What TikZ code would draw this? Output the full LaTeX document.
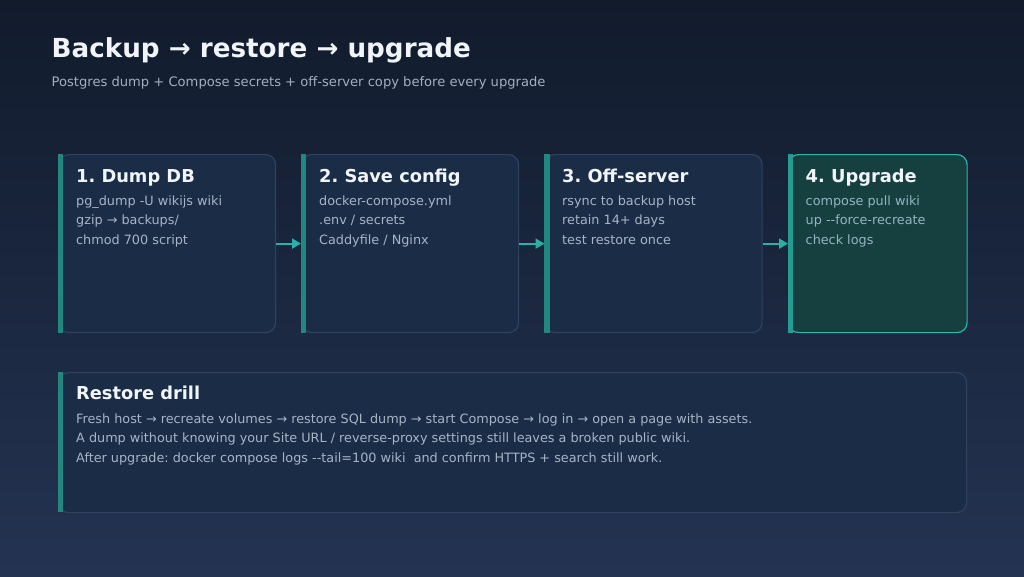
\documentclass[tikz,border=0pt]{standalone}
\usepackage{fontspec}
\setmainfont{DejaVu Sans}
\usetikzlibrary{arrows.meta}
\frenchspacing
\newcommand\dd{-\kern0pt-}
\definecolor{bgtop}{HTML}{111B2C}
\definecolor{bgbot}{HTML}{243352}
\definecolor{cardfill}{HTML}{1B2C47}
\definecolor{cardline}{HTML}{2E4262}
\definecolor{accent}{HTML}{22877F}
\definecolor{teal}{HTML}{2AB0A4}
\definecolor{upfill}{HTML}{15403F}
\definecolor{upline}{HTML}{2DB8AA}
\definecolor{titlecol}{HTML}{F1F5F9}
\definecolor{bodycol}{HTML}{A7B4C6}
\definecolor{subcol}{HTML}{A2AFC2}
\tikzset{
  card/.style={draw=cardline, line width=1.2pt, fill=cardfill, rounded corners=10pt, anchor=north west, inner sep=0pt},
  upcard/.style={card, draw=upline, fill=upfill},
  bar/.style={fill=accent, draw=none},
  cardtitle/.style={anchor=base west, inner sep=0pt, text=titlecol, font=\frenchspacing\fontsize{17.8}{21}\selectfont\bfseries},
  cardbody/.style={anchor=base west, inner sep=0pt, text=bodycol, align=left, font=\frenchspacing\fontsize{12.8}{19.3}\selectfont},
  arr/.style={draw=teal, line width=2.2pt, -{Triangle[length=9pt,width=10pt]}}
}
\begin{document}
\begin{tikzpicture}[x=1pt,y=-1pt]
\shade[top color=bgtop, bottom color=bgbot] (0,0) rectangle (1024,576);
\useasboundingbox (0,0) rectangle (1024,576);

\node[anchor=base west, inner sep=0pt, text=titlecol, font=\fontsize{26.2}{30}\selectfont\bfseries] (title) at (51.5,57.3) {Backup → restore → upgrade};
\node[anchor=base west, inner sep=0pt, text=subcol, font=\fontsize{13.1}{16}\selectfont] (sub) at (51.5,86.7) {Postgres dump + Compose secrets + off-server copy before every upgrade};

% cards
\node[card, minimum width=217pt, minimum height=178pt] (c1) at (58,154) {};
\node[card, minimum width=217pt, minimum height=178pt] (c2) at (301,154) {};
\node[card, minimum width=217pt, minimum height=178pt] (c3) at (544.5,154) {};
\node[upcard, minimum width=178.5pt, minimum height=178pt] (c4) at (788,154) {};
\node[card, minimum width=908pt, minimum height=140pt] (rd) at (58,372) {};

\fill[bar] (57.5,154) rectangle (63,332.5);
\fill[bar] (300.5,154) rectangle (306,332.5);
\fill[bar] (544,154) rectangle (549.5,332.5);
\fill[bar, fill=upline!85!black] (787.5,154) rectangle (793,332.5);
\fill[bar] (57.5,372) rectangle (63,512);

\draw[arr] (c1.east) -- (c2.west);
\draw[arr] (c2.east) -- (c3.west);
\draw[arr] (c3.east) -- (c4.west);

\node[cardtitle] (t1) at (76,182) {1. Dump DB};
\node[cardbody] (b1) at (76,244.1) {pg\_dump -U wikijs wiki\\gzip → backups/\\chmod 700 script};
\node[cardtitle] (t2) at (319,182) {2. Save config};
\node[cardbody] (b2) at (319,244.1) {docker-compose.yml\\.env / secrets\\Caddyfile / Nginx};
\node[cardtitle] (t3) at (562,182) {3. Off-server};
\node[cardbody] (b3) at (562,244.1) {rsync to backup host\\retain 14+ days\\test restore once};
\node[cardtitle] (t4) at (805.5,182) {4. Upgrade};
\node[cardbody, text=bodycol!85!teal] (b4) at (805.5,244.1) {compose pull wiki\\up \dd force-recreate\\check logs};

\node[cardtitle] (rt) at (76,399.3) {Restore drill};
\node[cardbody, font=\frenchspacing\fontsize{12.8}{19.4}\selectfont] (rb) at (76,462.1) {Fresh host → recreate volumes → restore SQL dump → start Compose → log in → open a page with assets.\\A dump without knowing your Site URL / reverse-proxy settings still leaves a broken public wiki.\\After upgrade: docker compose logs \dd tail=100 wiki\ \ and confirm HTTPS + search still work.};
\end{tikzpicture}
\end{document}
